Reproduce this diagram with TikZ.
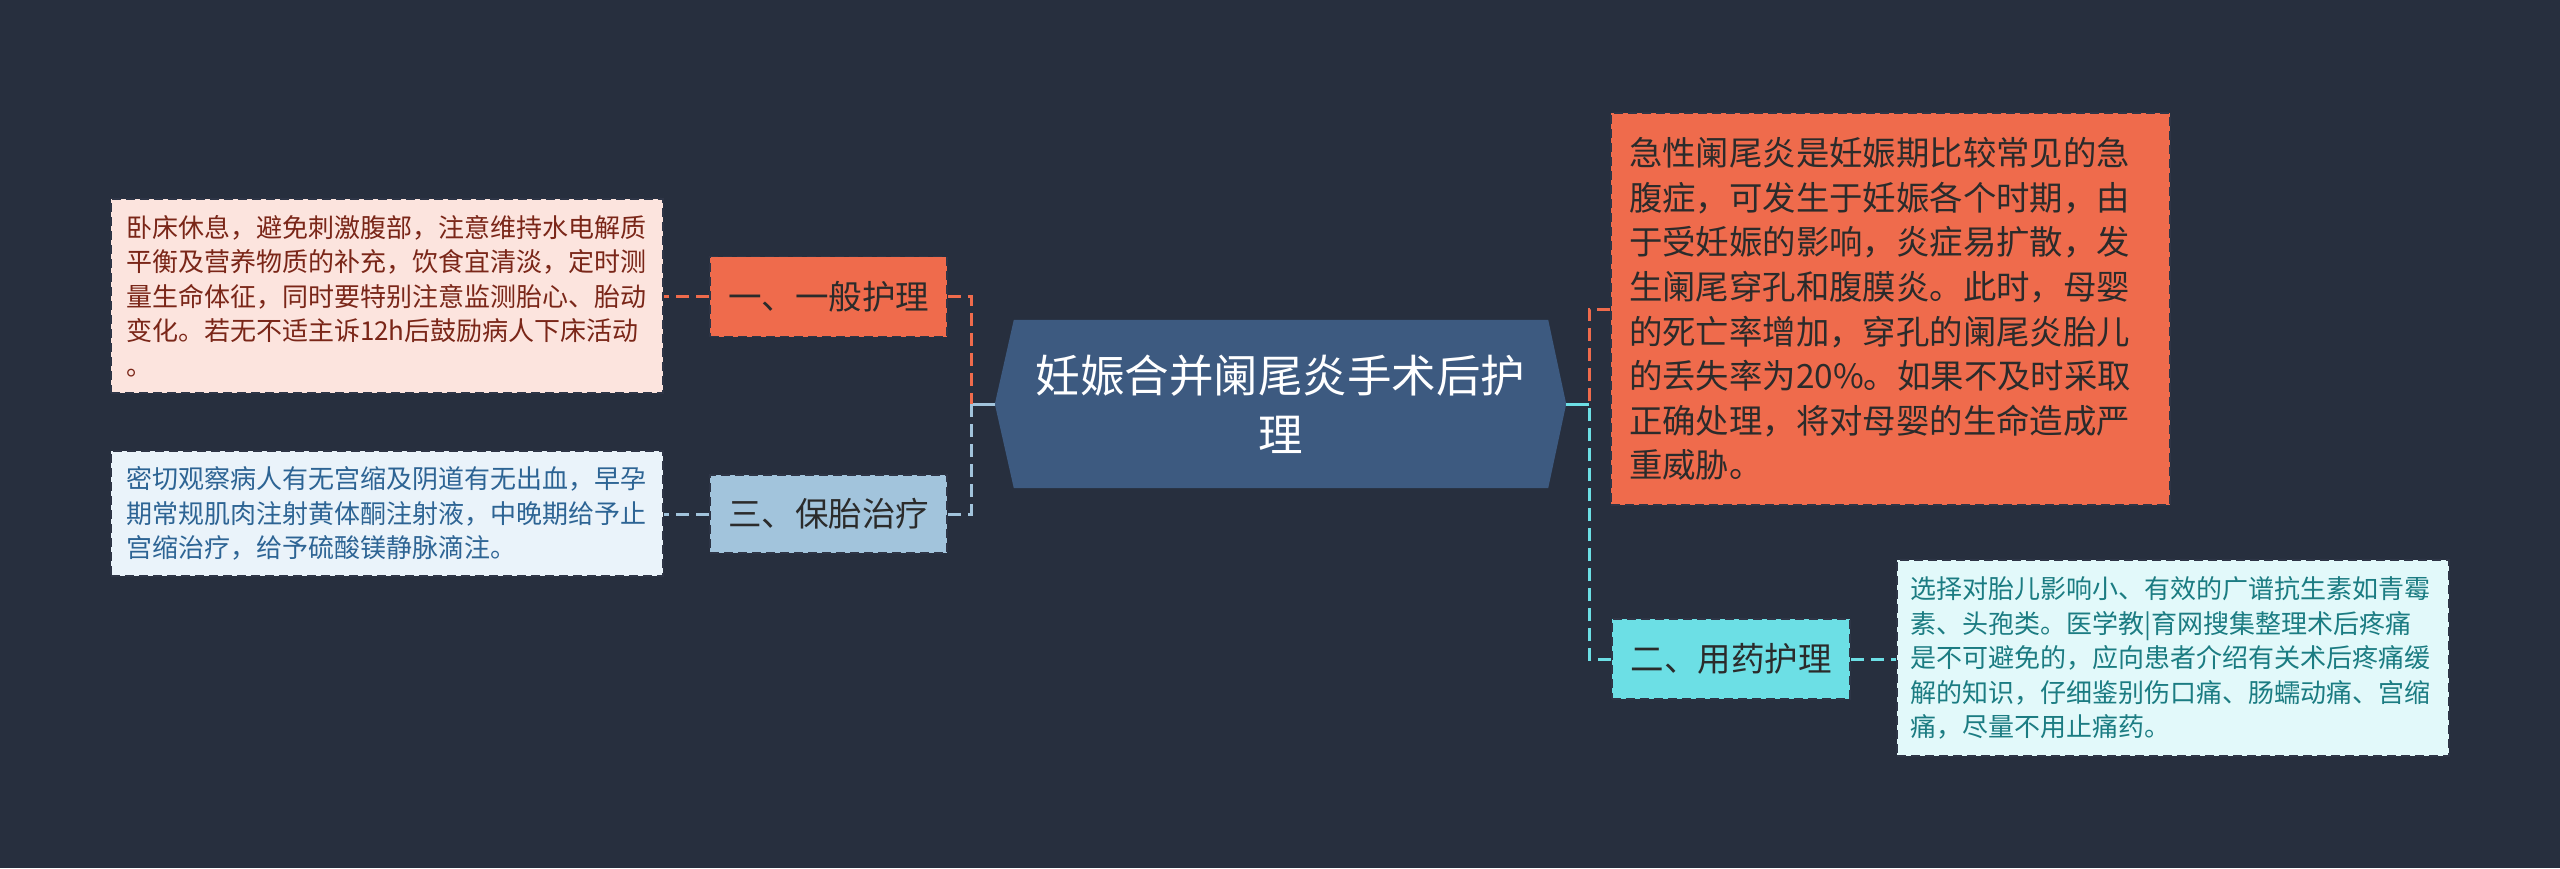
\documentclass[tikz,border=0pt]{standalone}
\usepackage{fontspec}
\newfontfamily\cjk{Noto Sans CJK SC}
\usetikzlibrary{backgrounds}
\definecolor{bgc}{HTML}{272F3E}
\definecolor{orng}{HTML}{EF6B4C}
\definecolor{pinkf}{HTML}{FCE4DE}
\definecolor{lblue}{HTML}{A2C4DC}
\definecolor{bluef}{HTML}{EAF3FA}
\definecolor{cyanl}{HTML}{6CDFE5}
\definecolor{cyanf}{HTML}{E2F9FA}
\definecolor{hexf}{HTML}{3D5A80}
\definecolor{bord}{HTML}{2E3546}
\definecolor{redt}{HTML}{7A2618}
\definecolor{bluet}{HTML}{2D6494}
\definecolor{tealt}{HTML}{1B7C82}
\definecolor{darkt}{HTML}{2B2B2B}
\tikzset{
  boxbase/.style={draw=bord, dashed, dash pattern=on 9pt off 5pt, line width=1.6pt, inner sep=0pt, anchor=center},
  leafbox/.style={boxbase, align=left, font=\cjk\fontsize{26}{34.5}\selectfont},
  labbox/.style={boxbase, text=darkt, font=\cjk\fontsize{33.5}{40}\selectfont},
  conn/.style={line width=3pt, dash pattern=on 13pt off 7pt},
  solidc/.style={line width=3pt}
}
\begin{document}
\begin{tikzpicture}[x=1pt,y=-1pt]
\coordinate (cornerA) at (0,0);
\coordinate (cornerB) at (2560,868);
\useasboundingbox (cornerA) rectangle (cornerB);
% central node
\node[inner sep=0pt, minimum width=571pt, minimum height=168pt, align=center, text=white,
      font=\cjk\fontsize{44.5}{59}\selectfont] (hex) at (1280.5,404) {妊娠合并阑尾炎手术后护\\理};
\begin{pgfonlayer}{background}
\fill[bgc] (cornerA) rectangle (cornerB);
\fill[hexf] (hex.west) -- ([xshift=19pt]hex.north west) -- ([xshift=-18pt]hex.north east) -- (hex.east)
  -- ([xshift=-18pt]hex.south east) -- ([xshift=19pt]hex.south west) -- cycle;
\end{pgfonlayer}
% left side
\node[labbox, fill=orng, minimum width=237pt, minimum height=80pt] (lab1) at (828.5,296.5) {一、一般护理};
\node[labbox, fill=lblue, minimum width=237pt, minimum height=78pt] (lab3) at (828.5,514) {三、保胎治疗};
\node[leafbox, fill=pinkf, text=redt, minimum width=552pt, minimum height=194pt, inner xsep=15pt, text width=522pt] (leaf1) at (387,296)
 {卧床休息，避免刺激腹部，注意维持水电解质\\平衡及营养物质的补充，饮食宜清淡，定时测\\量生命体征，同时要特别注意监测胎心、胎动\\变化。若无不适主诉12h后鼓励病人下床活动\\。};
\node[leafbox, fill=bluef, text=bluet, minimum width=552pt, minimum height=125pt, inner xsep=15pt, text width=522pt] (leaf2) at (387,513.5)
 {密切观察病人有无宫缩及阴道有无出血，早孕\\期常规肌肉注射黄体酮注射液，中晚期给予止\\宫缩治疗，给予硫酸镁静脉滴注。};
% right side
\node[boxbase, fill=orng, text=darkt, align=left, font=\cjk\fontsize{33.4}{44.6}\selectfont,
      minimum width=559pt, minimum height=392pt, inner xsep=18pt, text width=523pt] (ro) at (1890.5,309)
 {急性阑尾炎是妊娠期比较常见的急\\腹症，可发生于妊娠各个时期，由\\于受妊娠的影响，炎症易扩散，发\\生阑尾穿孔和腹膜炎。此时，母婴\\的死亡率增加，穿孔的阑尾炎胎儿\\的丢失率为20\%。如果不及时采取\\正确处理，将对母婴的生命造成严\\重威胁。};
\node[labbox, fill=cyanl, minimum width=238pt, minimum height=80pt] (lab2) at (1731,659) {二、用药护理};
\node[leafbox, fill=cyanf, text=tealt, minimum width=552pt, minimum height=196pt, inner xsep=13pt, text width=526pt] (leafR) at (2173,658)
 {选择对胎儿影响小、有效的广谱抗生素如青霉\\素、头孢类。医学教|育网搜集整理术后疼痛\\是不可避免的，应向患者介绍有关术后疼痛缓\\解的知识，仔细鉴别伤口痛、肠蠕动痛、宫缩\\痛，尽量不用止痛药。};
% connectors
\coordinate (busL) at (971,404);
\coordinate (busR) at (1589,404);
\draw[solidc, lblue] (hex.west) -- (busL);
\draw[conn, orng] (lab1.east) -| (busL);
\draw[conn, lblue] (lab3.east) -| (busL);
\draw[conn, orng] (lab1.west) -- (leaf1.east |- lab1.west);
\draw[conn, lblue] (lab3.west) -- (leaf2.east |- lab3.west);
\draw[solidc, cyanl] (hex.east) -- (busR);
\draw[conn, orng] (ro.west) -| (busR);
\draw[conn, cyanl] (lab2.west) -| (busR);
\draw[conn, cyanl] (lab2.east) -- (leafR.west |- lab2.east);
\end{tikzpicture}
\end{document}
